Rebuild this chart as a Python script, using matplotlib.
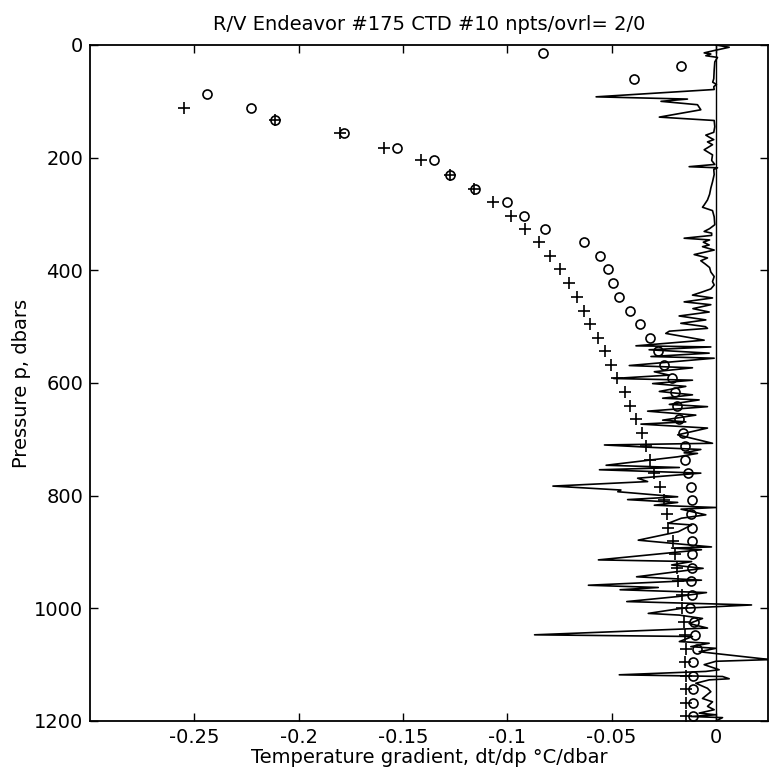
import numpy as np
import matplotlib
matplotlib.use("Agg")
import matplotlib.pyplot as plt

# bin pressures (dbar) and gradients for the two marker series
circ_p = [14, 37, 61, 87, 111, 134, 157, 182, 205, 230, 255, 279, 303, 327, 350, 375,
          398, 423, 447, 472, 495, 520, 544, 568, 592, 616, 640, 664, 688, 712, 736, 760,
          784, 808, 833, 857, 880, 904, 928, 952, 976, 1000, 1024, 1047, 1072, 1096, 1120,
          1144, 1168, 1192]
circ_g = [-0.083, -0.0165, -0.039, -0.244, -0.223, -0.2114, -0.1783, -0.153, -0.1353,
          -0.1273, -0.1154, -0.1001, -0.0919, -0.0819, -0.063, -0.0555, -0.0515, -0.0495,
          -0.0463, -0.0413, -0.0364, -0.0316, -0.0279, -0.025, -0.021, -0.0195, -0.0188,
          -0.0175, -0.0159, -0.0148, -0.0148, -0.0135, -0.012, -0.0112, -0.012, -0.0113,
          -0.0116, -0.0116, -0.0113, -0.012, -0.0113, -0.0124, -0.0105, -0.0099, -0.0092,
          -0.0111, -0.0111, -0.0111, -0.0111, -0.0111]

plus_p = [111, 134, 157, 182, 205, 230, 255, 279, 303, 327, 350, 375, 398, 423, 447, 472,
          495, 520, 544, 568, 592, 616, 640, 664, 688, 712, 736, 760, 784, 808, 833, 857,
          880, 904, 928, 952, 976, 1000, 1024, 1047, 1072, 1096, 1120, 1144, 1168, 1192]
plus_g = [-0.255, -0.2114, -0.180, -0.159, -0.1414, -0.1273, -0.116, -0.1068, -0.0984,
          -0.0915, -0.085, -0.0796, -0.0747, -0.0703, -0.0667, -0.0633, -0.0601, -0.0567,
          -0.0531, -0.0501, -0.0473, -0.0437, -0.041, -0.0383, -0.0356, -0.0335, -0.0316,
          -0.0295, -0.0266, -0.0247, -0.0236, -0.0228, -0.0204, -0.0196, -0.0188, -0.018,
          -0.0164, -0.0161, -0.0151, -0.0146, -0.0144, -0.0146, -0.0144, -0.0144, -0.0144,
          -0.0144]

# raw profile (pressure, gradient)
prof_p = [0, 4, 10, 14, 16, 19, 22, 30, 45, 60, 66, 70, 74, 79, 92, 96, 100, 106, 115, 128,
          134, 145, 155, 160, 164, 168, 172, 177, 186, 195, 205, 212, 216, 218, 221, 230,
          243, 254, 265, 275, 284, 288, 294, 305, 319, 326, 331, 334, 338, 343, 346, 350,
          355, 358, 364, 372, 378, 383, 389, 395, 403, 411, 420, 426, 433, 439, 444, 449,
          456, 461, 468, 474, 481, 488, 494, 500, 503, 508, 512, 524, 534, 536, 541, 547,
          553, 556, 569, 573, 580, 586, 592, 595, 601, 606, 615, 621, 627, 630, 638, 642,
          650, 657, 666, 669, 673, 680, 692, 707, 710, 714, 718, 724, 725, 731, 746, 750,
          754, 760, 769, 775, 783, 790, 793, 802, 807, 812, 817, 821, 824, 834, 840, 849,
          852, 864, 879, 891, 893, 896, 914, 917, 923, 929, 944, 950, 959, 963, 967, 972,
          979, 988, 994, 1000, 1009, 1012, 1018, 1027, 1035, 1047, 1050, 1059, 1062, 1068,
          1071, 1077, 1091, 1094, 1100, 1109, 1112, 1118, 1121, 1125, 1127, 1133, 1142,
          1148, 1160, 1166, 1174, 1180, 1186, 1189, 1192, 1194, 1200]
prof_g = [0.0, 0.0064, -0.001, -0.0056, -0.0024, -0.0048, 0.0008, -0.0005, -0.0008, -0.001,
          -0.0015, 0.0003, -0.001, -0.0008, -0.0574, -0.0136, -0.0263, -0.0088, -0.0072,
          -0.0271, -0.0008, -0.0005, -0.001, -0.0048, -0.003, -0.001, -0.004, -0.0016,
          -0.0056, -0.0016, -0.002, -0.0005, -0.0128, 0.0008, -0.001, -0.0008, -0.0016,
          -0.0024, -0.003, -0.004, -0.0056, -0.0064, -0.0016, -0.0008, -0.0005, -0.003,
          -0.0056, -0.002, -0.002, -0.0152, -0.003, -0.006, -0.0032, -0.0064, -0.0008,
          -0.0104, -0.004, -0.0072, -0.005, -0.003, -0.0024, -0.0008, -0.0016, -0.0008,
          -0.0024, -0.007, -0.0112, -0.0016, -0.0152, -0.0024, -0.011, -0.0032, -0.0176,
          -0.0048, -0.0168, -0.005, -0.004, -0.0223, -0.024, -0.0056, -0.0383, -0.0024,
          -0.032, -0.0032, -0.0311, -0.0008, -0.0415, -0.0112, -0.0295, -0.0223, -0.049,
          -0.0112, -0.0303, -0.0144, -0.0271, -0.0112, -0.0255, -0.008, -0.0223, -0.004,
          -0.0327, -0.0096, -0.0255, -0.0144, -0.0359, -0.004, -0.0183, -0.0016, -0.0534,
          -0.0327, -0.0072, -0.0152, -0.0088, -0.0183, -0.0526, -0.0175, -0.0558, -0.0072,
          -0.0375, -0.0327, -0.0781, -0.0455, -0.047, -0.0183, -0.0423, -0.0183, -0.0295,
          0.0, -0.0167, -0.0048, -0.0165, -0.0228, -0.0116, -0.018, -0.0372, -0.0021,
          -0.0212, -0.0069, -0.0563, -0.0116, -0.0212, -0.0061, -0.038, -0.0069, -0.0611,
          -0.0276, -0.0459, -0.0045, -0.018, -0.0427, 0.0171, -0.0164, -0.0324, -0.0175,
          -0.0064, -0.0128, -0.004, -0.0869, -0.0112, -0.0175, -0.0032, -0.012, 0.0,
          -0.008, 0.026, 0.0, -0.0056, 0.0016, -0.0048, -0.0463, 0.0032, 0.0064, -0.0032,
          -0.0096, -0.004, -0.0024, -0.0064, -0.0016, -0.004, -0.0008, -0.008, 0.0, -0.012,
          0.0032, 0.0]

xticks = [-0.25, -0.2, -0.15, -0.1, -0.05, 0]
xtick_labels = ["-0.25", "-0.2", "-0.15", "-0.1", "-0.05", "0"]
yticks = [0, 200, 400, 600, 800, 1000, 1200]

# wide sans to mimic the stretched scan lettering
plt.rcParams['font.family'] = ['DejaVu Sans']

fig = plt.figure(figsize=(7.69, 7.81), dpi=100)
ax = fig.add_axes([90/769, 60/781, 678/769, 676/781])

ax.plot(prof_g, prof_p, color="black", linewidth=1.2)
ax.axvline(0, color="black", linewidth=1.0)
ax.plot(circ_g, circ_p, linestyle="none", marker="o", markersize=6.5,
        markerfacecolor="none", markeredgecolor="black", markeredgewidth=1.2)
ax.plot(plus_g, plus_p, linestyle="none", marker="+", markersize=8,
        color="black", markeredgewidth=1.2)

ax.set_xlim(-0.30, 0.025)
ax.set_ylim(1200, 0)
ax.set_xticks(xticks)
ax.set_xticklabels(xtick_labels)
ax.set_yticks(yticks)
ax.tick_params(direction="in", top=True, right=True, length=6, width=1,
               labelsize=14, pad=5)
for s in ax.spines.values():
    s.set_linewidth(1.3)

ax.set_xlabel("Temperature gradient, dt/dp °C/dbar", fontsize=14, labelpad=1)
ax.set_ylabel("Pressure p, dbars", fontsize=14, labelpad=2)
ax.set_title("R/V Endeavor #175 CTD #10 npts/ovrl= 2/0", fontsize=14, pad=11)

fig.savefig("out.png", dpi=100)
